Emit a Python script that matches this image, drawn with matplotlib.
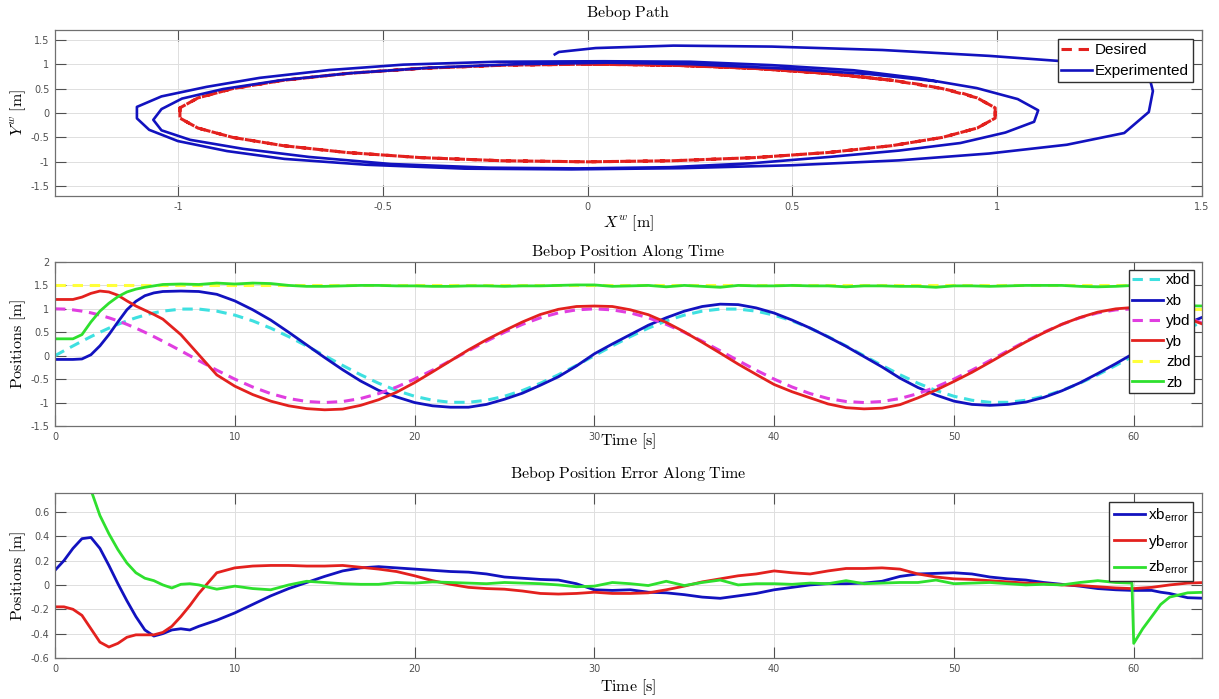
import numpy as np
import matplotlib
matplotlib.use('Agg')
import matplotlib.pyplot as plt
from matplotlib.ticker import FixedLocator, FuncFormatter

# time base of the position plots (s)
t_pos = [0, 0.5, 1, 1.5, 2, 2.5, 3, 3.5, 4, 4.5, 5, 5.5, 6,
         7, 8, 9, 10, 11, 12, 13, 14, 15,
         16, 17, 18, 19, 20, 21, 22, 23, 24, 25, 26, 27, 28, 29, 30,
         31, 32, 33, 34, 35, 36, 37, 38, 39, 40, 41, 42, 43, 44, 45,
         46, 47, 48, 49, 50, 51, 52, 53, 54, 55, 56, 57, 58, 59, 60,
         61, 62, 63, 64]

xbd = [0, 0.105, 0.208, 0.309, 0.407, 0.5, 0.588, 0.669, 0.743, 0.809, 0.866, 0.914, 0.951,
       0.995, 0.995, 0.951, 0.866, 0.743, 0.588, 0.407, 0.208, 0,
       -0.208, -0.407, -0.588, -0.743, -0.866, -0.951, -0.995, -0.995, -0.951, -0.866, -0.743, -0.588, -0.407, -0.208, 0,
       0.208, 0.407, 0.588, 0.743, 0.866, 0.951, 0.995, 0.995, 0.951, 0.866, 0.743, 0.588, 0.407, 0.208, 0,
       -0.208, -0.407, -0.588, -0.743, -0.866, -0.951, -0.995, -0.995, -0.951, -0.866, -0.743, -0.588, -0.407, -0.208, 0,
       0.208, 0.407, 0.588, 0.743]

ybd = [1, 0.995, 0.978, 0.951, 0.914, 0.866, 0.809, 0.743, 0.669, 0.588, 0.5, 0.407, 0.309,
       0.105, -0.105, -0.309, -0.5, -0.669, -0.809, -0.914, -0.978, -1,
       -0.978, -0.914, -0.809, -0.669, -0.5, -0.309, -0.105, 0.105, 0.309, 0.5, 0.669, 0.809, 0.914, 0.978, 1,
       0.978, 0.914, 0.809, 0.669, 0.5, 0.309, 0.105, -0.105, -0.309, -0.5, -0.669, -0.809, -0.914, -0.978, -1,
       -0.978, -0.914, -0.809, -0.669, -0.5, -0.309, -0.105, 0.105, 0.309, 0.5, 0.669, 0.809, 0.914, 0.978, 1,
       0.978, 0.914, 0.809, 0.669]

xb = [-0.08, -0.08, -0.08, -0.07, 0.02, 0.21, 0.45, 0.72, 0.98, 1.16, 1.28, 1.34, 1.37,
      1.38, 1.37, 1.31, 1.17, 0.98, 0.76, 0.5, 0.23, -0.04,
      -0.3, -0.54, -0.74, -0.88, -1.0, -1.07, -1.1, -1.1, -1.04, -0.93, -0.8, -0.63, -0.45, -0.22, 0.04,
      0.25, 0.45, 0.65, 0.81, 0.95, 1.05, 1.1, 1.09, 1.02, 0.91, 0.76, 0.59, 0.4, 0.2, -0.02,
      -0.24, -0.48, -0.68, -0.84, -0.97, -1.04, -1.06, -1.04, -0.99, -0.89, -0.75, -0.58, -0.38, -0.17, 0.05,
      0.25, 0.48, 0.69, 0.85]

yb = [1.2, 1.2, 1.2, 1.25, 1.33, 1.38, 1.36, 1.29, 1.17, 1.06, 0.97, 0.88, 0.78,
      0.45, 0.02, -0.41, -0.65, -0.83, -0.97, -1.07, -1.13, -1.155,
      -1.14, -1.06, -0.94, -0.78, -0.575, -0.345, -0.11, 0.125, 0.34, 0.535, 0.72, 0.88, 0.99, 1.05, 1.06,
      1.05, 0.98, 0.875, 0.71, 0.51, 0.285, 0.055, -0.18, -0.4, -0.615, -0.77, -0.9, -1.03, -1.11, -1.135,
      -1.12, -1.045, -0.9, -0.735, -0.55, -0.355, -0.14, 0.08, 0.295, 0.49, 0.67, 0.815, 0.93, 1.0, 1.03,
      1.0, 0.91, 0.795, 0.65]

zb = [0.36, 0.36, 0.36, 0.45, 0.72, 0.95, 1.12, 1.26, 1.36, 1.42, 1.46, 1.49, 1.52,
      1.53, 1.52, 1.55, 1.53, 1.55, 1.54, 1.5, 1.48, 1.48,
      1.49, 1.5, 1.5, 1.49, 1.49, 1.48, 1.48, 1.49, 1.49, 1.48, 1.49, 1.49, 1.5, 1.51, 1.51,
      1.48, 1.49, 1.5, 1.47, 1.5, 1.48, 1.46, 1.5, 1.49, 1.49, 1.5, 1.49, 1.49, 1.47, 1.49,
      1.49, 1.48, 1.48, 1.46, 1.49, 1.49, 1.48, 1.49, 1.5, 1.5, 1.5, 1.48, 1.47, 1.48, 1.5,
      1.26, 1.1, 1.065, 1.06]

t_zbd = [0, 60, 60, 64]
zbd = [1.5, 1.5, 1.0, 1.0]

# time base of the error plot (s)
t_err = [0, 0.5, 1, 1.5, 2, 2.5, 3, 3.5, 4, 4.5, 5, 5.5, 6, 6.5, 7, 7.5, 8,
         9, 10, 11, 12, 13, 14, 15, 16, 17, 18, 19, 20, 21, 22, 23, 24, 25, 26, 27, 28, 29, 30,
         31, 32, 33, 34, 35, 36, 37, 38, 39, 40, 41, 42, 43, 44, 45, 46, 47, 48, 49, 50,
         51, 52, 53, 54, 55, 56, 57, 58, 59, 59.9, 60, 60.5, 61, 61.5, 62, 63, 64]

xb_err = [0.12, 0.2, 0.3, 0.38, 0.39, 0.3, 0.16, 0.01, -0.13, -0.26, -0.37, -0.42, -0.4, -0.37, -0.36, -0.37, -0.34,
          -0.29, -0.23, -0.16, -0.09, -0.03, 0.02, 0.07, 0.115, 0.14, 0.15, 0.14, 0.13, 0.12, 0.11, 0.105, 0.09, 0.065, 0.055, 0.045, 0.04, 0.01, -0.04,
          -0.045, -0.04, -0.06, -0.065, -0.08, -0.1, -0.11, -0.09, -0.07, -0.04, -0.02, 0.0, 0.01, 0.01, 0.015, 0.03, 0.07, 0.09, 0.095, 0.1,
          0.09, 0.065, 0.05, 0.04, 0.02, 0.005, -0.01, -0.03, -0.04, -0.045, -0.045, -0.045, -0.045, -0.06, -0.07, -0.105, -0.11]

yb_err = [-0.18, -0.18, -0.2, -0.25, -0.36, -0.47, -0.51, -0.48, -0.43, -0.41, -0.41, -0.41, -0.39, -0.34, -0.26, -0.17, -0.07,
          0.1, 0.14, 0.155, 0.16, 0.16, 0.155, 0.155, 0.16, 0.145, 0.13, 0.11, 0.075, 0.035, 0.005, -0.02, -0.03, -0.035, -0.05, -0.07, -0.075, -0.07, -0.06,
          -0.07, -0.07, -0.065, -0.04, -0.01, 0.025, 0.05, 0.075, 0.09, 0.115, 0.1, 0.09, 0.115, 0.135, 0.135, 0.14, 0.13, 0.09, 0.065, 0.05,
          0.045, 0.035, 0.025, 0.015, 0.01, 0.0, -0.005, -0.015, -0.025, -0.03, -0.03, -0.025, -0.02, -0.01, 0.0, 0.015, 0.02]

zb_err = [1.14, 1.14, 1.14, 1.05, 0.78, 0.57, 0.42, 0.29, 0.18, 0.1, 0.055, 0.035, 0.0, -0.025, 0.005, 0.01, 0.0,
          -0.035, -0.01, -0.03, -0.04, 0.0, 0.03, 0.02, 0.01, 0.005, 0.005, 0.02, 0.015, 0.025, 0.02, 0.015, 0.01, 0.02, 0.015, 0.01, 0.0, -0.015, -0.01,
          0.02, 0.01, -0.005, 0.03, -0.005, 0.02, 0.04, 0.0, 0.01, 0.01, 0.005, 0.015, 0.01, 0.035, 0.01, 0.015, 0.02, 0.02, 0.04, 0.01,
          0.015, 0.02, 0.01, 0.0, 0.005, 0.0, 0.02, 0.035, 0.02, 0.015, -0.48, -0.36, -0.26, -0.16, -0.1, -0.065, -0.06]

path_xticks = [-1, -0.5, 0, 0.5, 1, 1.5]
path_yticks = [-1.5, -1, -0.5, 0, 0.5, 1, 1.5]
time_xticks = [0, 10, 20, 30, 40, 50, 60]
pos_yticks = [-1.5, -1, -0.5, 0, 0.5, 1, 1.5, 2]
err_yticks = [-0.6, -0.4, -0.2, 0, 0.2, 0.4, 0.6]

plt.rcParams['mathtext.fontset'] = 'custom'
plt.rcParams['mathtext.rm'] = 'Liberation Sans'
plt.rcParams['mathtext.it'] = 'Liberation Sans:italic'

C_BLUE = '#1212bf'
C_RED = '#e3211e'
C_GREEN = '#2ee02e'
C_CYAN = '#3ee0e0'
C_MAG = '#e03ee0'
C_YEL = '#ffff3a'
DASH = (0, (3.4, 2.2))
LEG = {'family': 'Liberation Sans', 'size': 11}


def fmt(v, pos):
    v = round(v, 6)
    if v == 0:
        return '0'
    return '%g' % v


def matlab_axes(ax, xticks, yticks, xlim, ylim):
    ax.set_xlim(xlim)
    ax.set_ylim(ylim)
    ax.xaxis.set_major_locator(FixedLocator(xticks))
    ax.yaxis.set_major_locator(FixedLocator(yticks))
    ax.xaxis.set_major_formatter(FuncFormatter(fmt))
    ax.yaxis.set_major_formatter(FuncFormatter(fmt))
    ax.grid(True, color='#dedede', linewidth=0.7)
    ax.set_axisbelow(True)
    ax.tick_params(direction='in', length=8, width=0.8, color='#505050',
                   labelsize=7, labelcolor='#505050', top=True, right=True, pad=4)
    for s in ax.spines.values():
        s.set_color('#707070')
        s.set_linewidth(0.9)


fig = plt.figure(figsize=(12.19, 6.99), dpi=100)
ax1 = fig.add_axes([0.0451, 0.7196, 0.941, 0.2375])
ax2 = fig.add_axes([0.0451, 0.3906, 0.941, 0.2346])
ax3 = fig.add_axes([0.0451, 0.0587, 0.941, 0.236])

# path
ax1.plot(xbd, ybd, color=C_RED, lw=2.2, linestyle=DASH, label='Desired')
ax1.plot(xb, yb, color=C_BLUE, lw=1.9, label='Experimented')
matlab_axes(ax1, path_xticks, path_yticks, (-1.3, 1.5), (-1.7, 1.7))
ax1.set_title(r'$\mathrm{Bebop\ Path}$', math_fontfamily='cm', fontsize=11.5, pad=9)
ax1.set_xlabel(r'$X^w\ [\mathrm{m}]$', math_fontfamily='cm', fontsize=11.5, labelpad=1)
ax1.set_ylabel(r'$Y^w\ [\mathrm{m}]$', math_fontfamily='cm', fontsize=11.5, labelpad=2)
ax1.legend(loc='upper right', prop=LEG, fancybox=False, framealpha=1, edgecolor='#303030',
           borderpad=0.25, handlelength=2.0, handletextpad=0.2, labelspacing=0.45,
           borderaxespad=0.6)

# positions
ax2.plot(t_pos, xbd, color=C_CYAN, lw=2.2, linestyle=DASH, label='xbd')
ax2.plot(t_pos, xb, color=C_BLUE, lw=2.0, label='xb')
ax2.plot(t_pos, ybd, color=C_MAG, lw=2.2, linestyle=DASH, label='ybd')
ax2.plot(t_pos, yb, color=C_RED, lw=2.0, label='yb')
ax2.plot(t_zbd, zbd, color=C_YEL, lw=2.2, linestyle=DASH, label='zbd')
ax2.plot(t_pos, zb, color=C_GREEN, lw=2.0, label='zb')
matlab_axes(ax2, time_xticks, pos_yticks, (0, 63.8), (-1.5, 2))
ax2.set_title(r'$\mathrm{Bebop\ Position\ Along\ Time}$', math_fontfamily='cm', fontsize=11.5, pad=4.5)
ax2.set_xlabel(r'$\mathrm{Time\ [s]}$', math_fontfamily='cm', fontsize=11.5, labelpad=-7)
ax2.set_ylabel(r'$\mathrm{Positions\ [m]}$', math_fontfamily='cm', fontsize=11.5, labelpad=2)
ax2.legend(loc='upper right', prop=LEG, fancybox=False, framealpha=1, edgecolor='#303030',
           borderpad=0.25, handlelength=2.0, handletextpad=0.2, labelspacing=0.42,
           borderaxespad=0.5)

# errors
ax3.plot(t_err, xb_err, color=C_BLUE, lw=2.0, label=r'xb$_{\mathrm{error}}$')
ax3.plot(t_err, yb_err, color=C_RED, lw=2.0, label=r'yb$_{\mathrm{error}}$')
ax3.plot(t_err, zb_err, color=C_GREEN, lw=2.0, label=r'zb$_{\mathrm{error}}$')
matlab_axes(ax3, time_xticks, err_yticks, (0, 63.8), (-0.6, 0.755))
ax3.set_title(r'$\mathrm{Bebop\ Position\ Error\ Along\ Time}$', math_fontfamily='cm', fontsize=11.5, pad=11)
ax3.set_xlabel(r'$\mathrm{Time\ [s]}$', math_fontfamily='cm', fontsize=11.5, labelpad=3)
ax3.set_ylabel(r'$\mathrm{Positions\ [m]}$', math_fontfamily='cm', fontsize=11.5, labelpad=2)
ax3.legend(loc='upper right', prop=LEG, fancybox=False, framealpha=1, edgecolor='#303030',
           borderpad=0.3, handlelength=2.0, handletextpad=0.2, labelspacing=0.55,
           borderaxespad=0.6)

fig.savefig('out.png', dpi=100)
